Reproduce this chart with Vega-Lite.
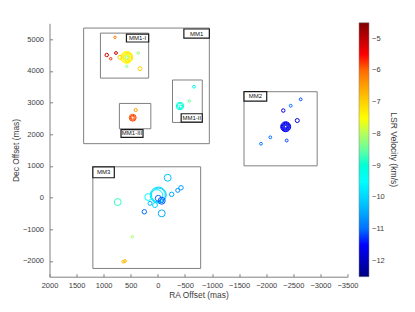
{
  "$schema": "https://vega.github.io/schema/vega-lite/v6.json",
  "width": 298,
  "height": 253.4,
  "autosize": "none",
  "padding": {"left": 49.5, "top": 23.3, "right": 67.5, "bottom": 35.3},
  "config": {
    "view": {"stroke": null},
    "font": "Liberation Sans",
    "axis": {
      "grid": false,
      "domainColor": "#808080",
      "tickColor": "#808080",
      "labelColor": "#3c3c3c",
      "titleColor": "#3c3c3c",
      "labelFontSize": 7.5,
      "titleFontSize": 8.4,
      "titleFontWeight": "normal",
      "tickSize": -3,
      "labelFlush": false,
      "labelOverlap": false,
      "format": "d"
    },
    "legend": {
      "labelFontSize": 7.5,
      "titleFontSize": 8.6,
      "titleFontWeight": "normal",
      "labelColor": "#3c3c3c",
      "titleColor": "#3c3c3c"
    }
  },
  "datasets": {
    "regions": [
      {"name": "MM1", "ra": 1370, "ra2": -950, "dec": 5350, "dec2": 1700},
      {"name": "MM1-I", "ra": 1060, "ra2": 170, "dec": 5190, "dec2": 3770},
      {"name": "MM1-II", "ra": -270, "ra2": -820, "dec": 3710, "dec2": 2370},
      {"name": "MM1-III", "ra": 710, "ra2": 130, "dec": 2970, "dec2": 2170},
      {"name": "MM2", "ra": -1590, "ra2": -2940, "dec": 3340, "dec2": 1000},
      {"name": "MM3", "ra": 1200, "ra2": -790, "dec": 970, "dec2": -2240}
    ],
    "tags": [
      {"name": "MM1", "ra": -480, "ra2": -950, "dec": 5320, "dec2": 5030},
      {"name": "MM1-I", "ra": 580, "ra2": 170, "dec": 5160, "dec2": 4910},
      {"name": "MM1-II", "ra": -430, "ra2": -820, "dec": 2645, "dec2": 2380},
      {"name": "MM1-III", "ra": 680, "ra2": 274, "dec": 2146, "dec2": 1900},
      {"name": "MM2", "ra": -1590, "ra2": -2009, "dec": 3340, "dec2": 3046},
      {"name": "MM3", "ra": 1200, "ra2": 804, "dec": 970, "dec2": 624}
    ],
    "tagText": [
      {"name": "MM1", "ra": -715, "dec": 5175},
      {"name": "MM1-I", "ra": 375, "dec": 5035},
      {"name": "MM1-II", "ra": -625, "dec": 2512},
      {"name": "MM1-III", "ra": 477, "dec": 2023},
      {"name": "MM2", "ra": -1800, "dec": 3193},
      {"name": "MM3", "ra": 1002, "dec": 797}
    ],
    "spots": [
      {"region": "MM1-I", "ra": 575, "dec": 4426, "vlsr": -7.5, "flux": 36},
      {"region": "MM1-I", "ra": 575, "dec": 4426, "vlsr": -7.4, "flux": 28},
      {"region": "MM1-I", "ra": 560, "dec": 4426, "vlsr": -7.1, "flux": 20},
      {"region": "MM1-I", "ra": 575, "dec": 4426, "vlsr": -7.3, "flux": 14},
      {"region": "MM1-I", "ra": 575, "dec": 4426, "vlsr": -7.5, "flux": 9},
      {"region": "MM1-I", "ra": 575, "dec": 4426, "vlsr": -7.7, "flux": 5},
      {"region": "MM1-I", "ra": 575, "dec": 4420, "vlsr": -8.1, "flux": 2},
      {"region": "MM1-I", "ra": 791, "dec": 5058, "vlsr": -6.2, "flux": 1.5},
      {"region": "MM1-I", "ra": 944, "dec": 4499, "vlsr": -5.2, "flux": 3},
      {"region": "MM1-I", "ra": 870, "dec": 4382, "vlsr": -5.6, "flux": 1.5},
      {"region": "MM1-I", "ra": 773, "dec": 4562, "vlsr": -5.1, "flux": 2},
      {"region": "MM1-I", "ra": 699, "dec": 4426, "vlsr": -7.0, "flux": 4},
      {"region": "MM1-I", "ra": 361, "dec": 4562, "vlsr": -8.2, "flux": 1.5},
      {"region": "MM1-I", "ra": 575, "dec": 4142, "vlsr": -8.3, "flux": 1.5},
      {"region": "MM1-I", "ra": 330, "dec": 4066, "vlsr": -7.0, "flux": 4},
      {"region": "MM1-III", "ra": 409, "dec": 2762, "vlsr": -6.5, "flux": 2.5},
      {"region": "MM1-III", "ra": 464, "dec": 2519, "vlsr": -5.8, "flux": 12},
      {"region": "MM1-III", "ra": 464, "dec": 2519, "vlsr": -5.7, "flux": 6},
      {"region": "MM1-III", "ra": 464, "dec": 2519, "vlsr": -5.9, "flux": 2},
      {"region": "MM1-II", "ra": -667, "dec": 3498, "vlsr": -9.3, "flux": 2},
      {"region": "MM1-II", "ra": -580, "dec": 3046, "vlsr": -8.5, "flux": 1.5},
      {"region": "MM1-II", "ra": -409, "dec": 2888, "vlsr": -9.1, "flux": 14},
      {"region": "MM1-II", "ra": -409, "dec": 2888, "vlsr": -8.9, "flux": 7},
      {"region": "MM1-II", "ra": -420, "dec": 2870, "vlsr": -9.3, "flux": 2},
      {"region": "MM2", "ra": -2359, "dec": 2235, "vlsr": -11.5, "flux": 25},
      {"region": "MM2", "ra": -2359, "dec": 2235, "vlsr": -11.6, "flux": 19},
      {"region": "MM2", "ra": -2359, "dec": 2235, "vlsr": -11.7, "flux": 13},
      {"region": "MM2", "ra": -2359, "dec": 2235, "vlsr": -11.6, "flux": 8},
      {"region": "MM2", "ra": -2359, "dec": 2235, "vlsr": -11.6, "flux": 4},
      {"region": "MM2", "ra": -2359, "dec": 2235, "vlsr": -11.7, "flux": 1.5},
      {"region": "MM2", "ra": -2636, "dec": 3100, "vlsr": -11.2, "flux": 2},
      {"region": "MM2", "ra": -2452, "dec": 2898, "vlsr": -11.0, "flux": 2},
      {"region": "MM2", "ra": -2315, "dec": 2746, "vlsr": -11.7, "flux": 3},
      {"region": "MM2", "ra": -2573, "dec": 2430, "vlsr": -11.8, "flux": 4},
      {"region": "MM2", "ra": -2075, "dec": 1900, "vlsr": -11.0, "flux": 2},
      {"region": "MM2", "ra": -2378, "dec": 1799, "vlsr": -11.3, "flux": 2},
      {"region": "MM2", "ra": -1903, "dec": 1698, "vlsr": -10.9, "flux": 2},
      {"region": "MM3", "ra": -8, "dec": 78, "vlsr": -9.9, "flux": 64},
      {"region": "MM3", "ra": -8, "dec": 78, "vlsr": -10.1, "flux": 49},
      {"region": "MM3", "ra": 20, "dec": 60, "vlsr": -9.6, "flux": 36},
      {"region": "MM3", "ra": -181, "dec": 624, "vlsr": -10.2, "flux": 12},
      {"region": "MM3", "ra": -427, "dec": 308, "vlsr": -10.6, "flux": 5},
      {"region": "MM3", "ra": -366, "dec": 226, "vlsr": -10.7, "flux": 4},
      {"region": "MM3", "ra": -255, "dec": 100, "vlsr": -10.5, "flux": 5},
      {"region": "MM3", "ra": 177, "dec": 15, "vlsr": -9.5, "flux": 12},
      {"region": "MM3", "ra": -8, "dec": -26, "vlsr": -11.0, "flux": 9},
      {"region": "MM3", "ra": -71, "dec": -102, "vlsr": -11.2, "flux": 12},
      {"region": "MM3", "ra": -71, "dec": -102, "vlsr": -11.0, "flux": 4},
      {"region": "MM3", "ra": 145, "dec": -184, "vlsr": -10.3, "flux": 4},
      {"region": "MM3", "ra": 53, "dec": -238, "vlsr": -10.0, "flux": 6},
      {"region": "MM3", "ra": 250, "dec": -450, "vlsr": -11.0, "flux": 5},
      {"region": "MM3", "ra": -71, "dec": -500, "vlsr": -10.4, "flux": 12},
      {"region": "MM3", "ra": 741, "dec": -143, "vlsr": -8.8, "flux": 12},
      {"region": "MM3", "ra": 472, "dec": -1239, "vlsr": -8.1, "flux": 1.5},
      {"region": "MM3", "ra": 638, "dec": -2028, "vlsr": -6.8, "flux": 2},
      {"region": "MM3", "ra": 607, "dec": -2006, "vlsr": -6.7, "flux": 2}
    ]
  },
  "encoding": {
    "x": {
      "field": "ra",
      "type": "quantitative",
      "scale": {"domain": [-3500, 2000], "reverse": true, "nice": false, "zero": false},
      "axis": {
        "title": "RA Offset (mas)",
        "values": [2000, 1500, 1000, 500, 0, -500, -1000, -1500, -2000, -2500, -3000, -3500],
        "labelPadding": 7.5,
        "titlePadding": 2
      }
    },
    "y": {
      "field": "dec",
      "type": "quantitative",
      "scale": {"domain": [-2500, 5500], "nice": false, "zero": false},
      "axis": {
        "title": "Dec Offset (mas)",
        "values": [-2000, -1000, 0, 1000, 2000, 3000, 4000, 5000],
        "labelPadding": 9,
        "titlePadding": 2
      }
    }
  },
  "layer": [
    {
      "data": {"name": "regions"},
      "mark": {"type": "rect", "fill": null, "stroke": "#808080", "strokeWidth": 1},
      "encoding": {
        "x2": {"field": "ra2"},
        "y2": {"field": "dec2"}
      }
    },
    {
      "data": {"name": "tags"},
      "mark": {"type": "rect", "fill": "white", "stroke": "#1a1a1a", "strokeWidth": 1.2},
      "encoding": {
        "x2": {"field": "ra2"},
        "y2": {"field": "dec2"}
      }
    },
    {
      "data": {"name": "tagText"},
      "mark": {"type": "text", "fontSize": 6, "color": "#111111", "align": "center", "baseline": "middle"},
      "encoding": {
        "text": {"field": "name"}
      }
    },
    {
      "data": {"name": "spots"},
      "mark": {"type": "point", "shape": "circle", "filled": false, "strokeWidth": 1, "opacity": 1},
      "encoding": {
        "color": {
          "field": "vlsr",
          "type": "quantitative",
          "scale": {
            "domain": [-12.5, -11.5, -9.5, -7.5, -5.5, -4.5],
            "range": ["#000080", "#0000ff", "#00ffff", "#ffff00", "#ff0000", "#800000"]
          },
          "legend": {
            "title": "LSR Velocity (km/s)",
            "orient": "none",
            "legendX": 309.5,
            "legendY": -0.6,
            "direction": "vertical",
            "gradientLength": 254,
            "gradientThickness": 10,
            "gradientStrokeColor": "#808080",
            "gradientStrokeWidth": 0.5,
            "values": [-12, -11, -10, -9, -8, -7, -6, -5],
            "labelOffset": 3,
            "titleOrient": "right",
            "titleAngle": 270,
            "titleAnchor": "middle",
            "titlePadding": 4
          }
        },
        "size": {
          "field": "flux",
          "type": "quantitative",
          "scale": {"domain": [0, 50], "range": [0, 200]},
          "legend": null
        }
      }
    }
  ]
}
